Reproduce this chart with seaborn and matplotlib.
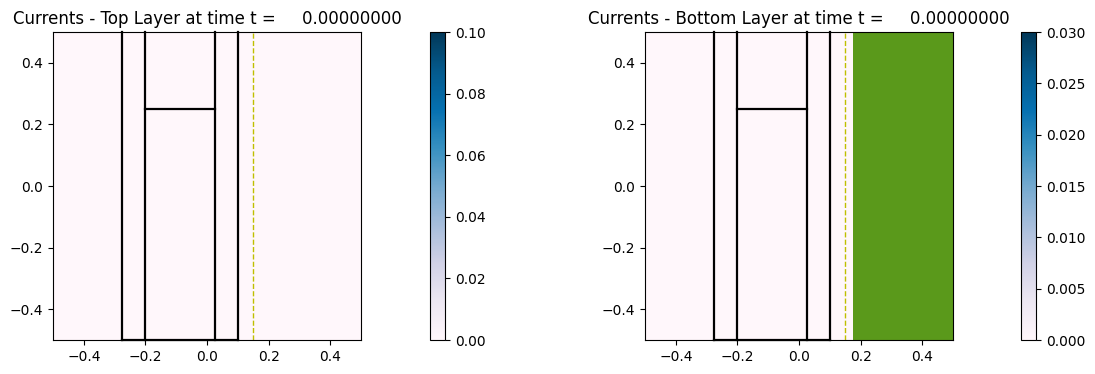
import numpy as np
import seaborn as sns
import matplotlib
matplotlib.use("Agg")
import matplotlib.pyplot as plt
from matplotlib.colors import ListedColormap

# grid and fields (all currents are zero at t = 0)
x_edges = np.linspace(-0.5, 0.5, 41)
y_edges = np.linspace(-0.5, 0.5, 41)
top_current = np.zeros((40, 40))
bottom_current = np.zeros((40, 40))
bottom_vmax = 0.03
top_vmax = 0.1

# region that is masked (green) in the bottom layer
green_start = 0.175

# device outline segments: (x0, x1, y0, y1)
outline = [
    (-0.275, -0.275, -0.5, 0.5),
    (-0.2, -0.2, -0.5, 0.5),
    (0.025, 0.025, -0.5, 0.5),
    (0.1, 0.1, -0.5, 0.5),
    (-0.2, 0.025, 0.25, 0.25),
    (-0.275, 0.1, -0.5, -0.5),
]
probe_x = 0.15
time_t = 0.0

cmap = sns.color_palette("PuBu", as_cmap=True)

fig = plt.figure(figsize=(10.95, 3.74), dpi=100)
W, H = 1095, 374


def add_ax(x0, y0, w, h):
    return fig.add_axes([x0 / W, (H - y0 - h) / H, w / W, h / H])


def draw(ax, cax, data, vmax, title, mask=False):
    mesh = ax.pcolormesh(x_edges, y_edges, data, cmap=cmap, vmin=0, vmax=vmax)
    if mask:
        xc = 0.5 * (x_edges[:-1] + x_edges[1:])
        m = np.tile(xc > green_start, (len(y_edges) - 1, 1))
        g = np.ma.masked_where(~m, np.ones_like(data))
        ax.pcolormesh(x_edges, y_edges, g, cmap=ListedColormap(["#5a991b"]))
    for x0, x1, y0, y1 in outline:
        ax.plot([x0, x1], [y0, y1], color="black", lw=1.6, clip_on=False)
    ax.axvline(probe_x, color="y", ls="--", lw=1)
    ax.set_xlim(-0.5, 0.5)
    ax.set_ylim(-0.5, 0.5)
    ax.set_xticks([-0.4, -0.2, 0.0, 0.2, 0.4])
    ax.set_yticks([-0.4, -0.2, 0.0, 0.2, 0.4])
    ax.set_title(title, fontsize=12)
    fig.colorbar(mesh, cax=cax)


ax1 = add_ax(53, 32, 308, 308)
cax1 = add_ax(430, 32, 15, 308)
draw(ax1, cax1, top_current, top_vmax,
     "Currents - Top Layer at time t =     %.8f" % time_t)
cax1.set_yticks(np.arange(0, 0.101, 0.02))
cax1.set_yticklabels(["%.2f" % v for v in np.arange(0, 0.101, 0.02)])

ax2 = add_ax(645, 32, 308, 308)
cax2 = add_ax(1021, 32, 15, 308)
draw(ax2, cax2, bottom_current, bottom_vmax,
     "Currents - Bottom Layer at time t =     %.8f" % time_t, mask=True)
cax2.set_yticks(np.arange(0, 0.0301, 0.005))
cax2.set_yticklabels(["%.3f" % v for v in np.arange(0, 0.0301, 0.005)])

fig.savefig("out.png", dpi=100)
